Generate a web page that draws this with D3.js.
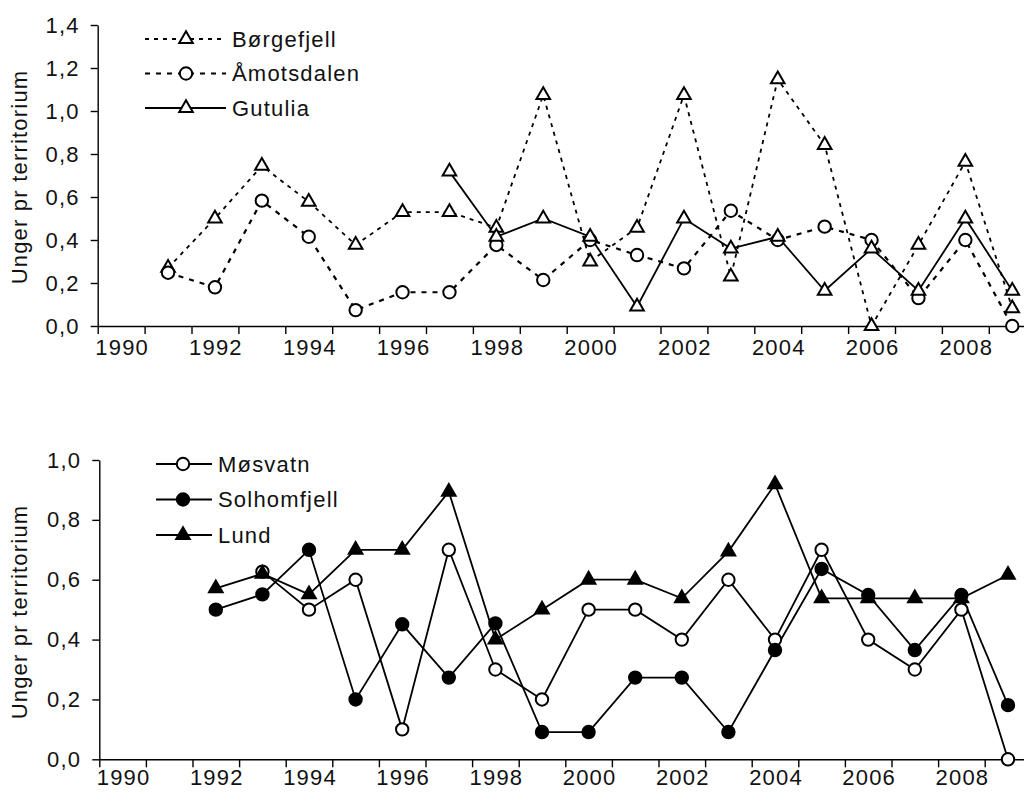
<!DOCTYPE html>
<html>
<head>
<meta charset="utf-8">
<script src="https://cdn.jsdelivr.net/npm/d3@7/dist/d3.min.js"></script>
<style>
  html, body { margin: 0; padding: 0; background: #fff; }
  svg { display: block; }
  text { font-family: "Liberation Sans", Arial, sans-serif; fill: #111; }
</style>
</head>
<body>
<svg id="chart" width="1024" height="805"></svg>
<script>
// ---- data ----
const years = [1990, 1991, 1992, 1993, 1994, 1995, 1996, 1997, 1998, 1999,
               2000, 2001, 2002, 2003, 2004, 2005, 2006, 2007, 2008, 2009];
const yearLabels = ["1990", "1992", "1994", "1996", "1998", "2000", "2002", "2004", "2006", "2008"];

// top panel
const borgefjell = [null, 0.27, 0.50, 0.745, 0.578, 0.377, 0.53, 0.53, 0.457, 1.074,
                    0.30, 0.457, 1.074, 0.23, 1.147, 0.842, 0.0, 0.377, 0.764, 0.082];
const amotsdalen = [null, 0.248, 0.18, 0.583, 0.415, 0.074, 0.157, 0.157, 0.377, 0.214,
                    0.40, 0.33, 0.268, 0.536, 0.40, 0.462, 0.40, 0.13, 0.40, 0.0];
const gutulia    = [null, null, null, null, null, null, null, 0.718, 0.415, 0.50,
                    0.415, 0.09, 0.50, 0.36, 0.415, 0.164, 0.36, 0.164, 0.50, 0.164];
const topTicks = [0, 0.2, 0.4, 0.6, 0.8, 1.0, 1.2, 1.4];

// bottom panel
const mosvatn     = [null, null, null, 0.627, 0.50, 0.60, 0.10, 0.70, 0.30, 0.20,
                     0.50, 0.50, 0.40, 0.60, 0.40, 0.70, 0.40, 0.30, 0.50, 0.0];
const solhomfjell = [null, null, 0.50, 0.551, 0.70, 0.20, 0.451, 0.273, 0.454, 0.091,
                     0.091, 0.273, 0.273, 0.091, 0.365, 0.636, 0.549, 0.365, 0.549, 0.181];
const lund        = [null, null, 0.571, 0.62, 0.551, 0.70, 0.70, 0.894, 0.40, 0.50,
                     0.60, 0.60, 0.538, 0.694, 0.919, 0.538, 0.538, 0.538, 0.538, 0.616];
const bottomTicks = [0, 0.2, 0.4, 0.6, 0.8, 1.0];

const yTitle = "Unger pr territorium";

// ---- drawing ----
const svg = d3.select("#chart");
const FONT = 22;
const fmt = d => d3.format(".1f")(d).replace(".", ",");

const triSym = d3.symbol().type(d3.symbolTriangle).size(80);
const circR = 6.2;

function panel(cfg) {
  const g = svg.append("g");
  const x = d3.scaleLinear().domain([years[0], years[0] + years.length])
    .range([cfg.x0, cfg.x0 + cfg.bw * years.length]);
  const xc = yr => x(yr + 0.5);
  const y = d3.scaleLinear().domain([0, cfg.ymax]).range([cfg.yBottom, cfg.yTop]);

  // y axis
  const yAxis = d3.axisLeft(y).tickValues(cfg.ticks).tickFormat(fmt)
    .tickSize(7).tickSizeOuter(0).tickPadding(11);
  const ya = g.append("g").attr("transform", `translate(${cfg.x0},0)`).call(yAxis);
  ya.select(".domain").attr("stroke", "#000").attr("stroke-width", 1.4);
  ya.selectAll(".tick line").attr("stroke", "#000").attr("stroke-width", 1.4);
  ya.selectAll(".tick text").attr("font-size", FONT).attr("letter-spacing", "1.2px");

  // x axis (ticks between categories)
  const xAxis = d3.axisBottom(x).tickValues(years).tickFormat("")
    .tickSize(8).tickSizeOuter(0);
  const xa = g.append("g").attr("transform", `translate(0,${cfg.yBottom})`).call(xAxis);
  xa.select(".domain").attr("stroke", "#000").attr("stroke-width", 1.4);
  xa.selectAll(".tick line").attr("stroke", "#000").attr("stroke-width", 1.4);

  g.append("g").selectAll("text").data(yearLabels).join("text")
    .attr("x", d => xc(+d) + 1)
    .attr("y", cfg.yBottom + cfg.labelOff)
    .attr("text-anchor", "middle")
    .attr("font-size", FONT).attr("letter-spacing", "1.2px")
    .text(d => d);

  // y title
  g.append("text")
    .attr("transform", `translate(${cfg.titleX},${cfg.titleY}) rotate(-90)`)
    .attr("text-anchor", "middle")
    .attr("font-size", FONT).attr("letter-spacing", "1.2px")
    .text(yTitle);

  // series
  cfg.series.forEach(s => {
    const pts = years.map((yr, i) => ({ yr, v: s.values[i] }));
    const line = d3.line().defined(d => d.v !== null).x(d => xc(d.yr)).y(d => y(d.v));
    g.append("path").datum(pts).attr("d", line)
      .attr("fill", "none").attr("stroke", "#000")
      .attr("stroke-width", s.lw).attr("stroke-dasharray", s.dash || null);
  });
  cfg.series.forEach(s => {
    const pts = years.map((yr, i) => ({ yr, v: s.values[i] })).filter(d => d.v !== null);
    drawMarkers(g, pts.map(d => [xc(d.yr), y(d.v)]), s);
  });

  // legend
  cfg.series.forEach((s, i) => {
    const ly = cfg.legY + i * cfg.legStep;
    g.append("line").attr("x1", cfg.legX1).attr("x2", cfg.legX2)
      .attr("y1", ly).attr("y2", ly).attr("stroke", "#000")
      .attr("stroke-width", s.lw).attr("stroke-dasharray", s.dash || null);
    drawMarkers(g, [[cfg.legM, ly]], s);
    g.append("text").attr("x", cfg.legT).attr("y", ly + 7.5)
      .attr("font-size", FONT).attr("letter-spacing", "1.2px").text(s.name);
  });
}

function drawMarkers(g, pts, s) {
  if (s.marker === "tri") {
    g.append("g").selectAll("path").data(pts).join("path")
      .attr("d", triSym).attr("transform", d => `translate(${d[0]},${d[1]})`)
      .attr("fill", s.fill).attr("stroke", "#000").attr("stroke-width", 2);
  } else {
    g.append("g").selectAll("circle").data(pts).join("circle")
      .attr("cx", d => d[0]).attr("cy", d => d[1]).attr("r", circR)
      .attr("fill", s.fill).attr("stroke", "#000").attr("stroke-width", 2);
  }
}

panel({
  x0: 97.7, bw: 46.9, yTop: 25, yBottom: 326, ymax: 1.4, ticks: topTicks,
  labelOff: 29, titleX: 27, titleY: 177,
  legX1: 145, legX2: 226, legM: 186, legT: 232, legY: 39, legStep: 34.5,
  series: [
    { name: "Børgefjell", values: borgefjell, marker: "tri", fill: "#fff", lw: 1.8, dash: "4,5" },
    { name: "Åmotsdalen", values: amotsdalen, marker: "circ", fill: "#fff", lw: 2.2, dash: "5,6" },
    { name: "Gutulia", values: gutulia, marker: "tri", fill: "#fff", lw: 1.8, dash: null }
  ]
});

panel({
  x0: 99.3, bw: 46.6, yTop: 460, yBottom: 759.3, ymax: 1.0, ticks: bottomTicks,
  labelOff: 26, titleX: 27, titleY: 612,
  legX1: 156, legX2: 212, legM: 183, legT: 218, legY: 464, legStep: 35.5,
  series: [
    { name: "Møsvatn", values: mosvatn, marker: "circ", fill: "#fff", lw: 1.8, dash: null },
    { name: "Solhomfjell", values: solhomfjell, marker: "circ", fill: "#000", lw: 1.8, dash: null },
    { name: "Lund", values: lund, marker: "tri", fill: "#000", lw: 1.8, dash: null }
  ]
});
</script>
</body>
</html>
